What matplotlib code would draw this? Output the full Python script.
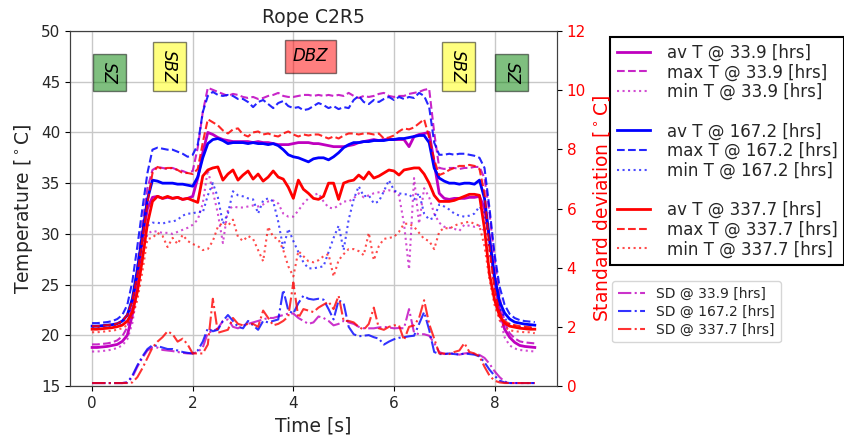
import numpy as np
import matplotlib
matplotlib.use('Agg')
import matplotlib.pyplot as plt
from matplotlib.lines import Line2D

# sample times [s], 0.1 s steps
time_s = np.linspace(0, 8.8, 89)

hours = ['33.9', '167.2', '337.7']

# temperature series [deg C] at 33.9 hrs
av_339 = [18.8, 18.8, 18.85, 18.9, 19.0, 19.1, 19.4, 20.0, 22.0, 25.5,
          29.5, 32.5, 33.6, 33.7, 33.5, 33.6, 33.5, 33.6, 33.4, 33.5,
          33.7, 35.5, 38.0, 40.0, 39.8, 39.5, 39.3, 39.2, 39.1, 39.1,
          39.1, 39.1, 39.0, 39.1, 39.0, 39.0, 38.9, 38.8, 38.8, 38.8,
          38.9, 39.0, 39.0, 39.0, 38.9, 38.9, 38.8, 38.7, 38.6, 38.6,
          38.6, 38.7, 38.8, 39.0, 39.1, 39.2, 39.3, 39.2, 39.3, 39.3,
          39.3, 39.3, 39.3, 38.6, 39.6, 39.8, 39.9, 40.0, 37.0, 34.0,
          33.5, 33.4, 33.5, 33.5, 33.5, 33.6, 33.6, 33.7, 32.5, 29.5,
          25.5, 22.5, 20.6, 19.8, 19.3, 19.0, 18.9, 18.85, 18.8]
max_339 = [19.1, 19.1, 19.15, 19.2, 19.3, 19.5, 19.9, 20.8, 23.0, 26.8,
           31.0, 34.5, 36.3, 36.6, 36.5, 36.4, 36.5, 36.3, 36.2, 36.0,
           36.2, 38.5, 42.0, 44.4, 44.2, 44.0, 43.8, 43.6, 43.8, 43.7,
           43.5, 43.4, 43.5, 43.3, 43.4, 43.6, 43.7, 43.9, 43.6, 43.5,
           43.5, 43.6, 43.7, 43.7, 43.6, 43.7, 43.6, 43.7, 43.6, 43.7,
           43.6, 43.9, 43.6, 43.4, 43.6, 43.5, 43.6, 43.8, 43.9, 43.6,
           43.5, 43.6, 43.6, 43.8, 43.9, 44.0, 44.2, 44.3, 40.0, 36.5,
           36.4, 36.5, 36.5, 36.4, 36.5, 36.5, 36.6, 36.6, 35.5, 32.0,
           27.5, 23.8, 21.3, 20.2, 19.7, 19.4, 19.3, 19.25, 19.2]
min_339 = [18.4, 18.4, 18.45, 18.5, 18.6, 18.75, 19.0, 19.6, 21.2, 24.3,
           28.0, 30.0, 30.3, 30.2, 30.1, 30.1, 30.0, 30.2, 30.4, 30.6,
           30.9, 31.4, 33.0, 36.3, 34.2, 32.0, 29.1, 32.4, 32.7, 32.6,
           32.6, 32.7, 32.8, 32.7, 32.9, 33.2, 33.3, 33.0, 32.0, 31.7,
           31.7, 32.3, 33.0, 33.5, 33.8, 34.0, 33.2, 32.6, 32.5, 32.8,
           33.2, 33.2, 33.5, 34.0, 33.6, 33.8, 34.0, 34.1, 34.2, 34.3,
           34.2, 33.8, 31.0, 26.5, 35.5, 31.0, 34.5, 33.6, 32.0, 31.1,
           30.7, 30.6, 30.5, 30.3, 30.9, 30.8, 30.7, 30.8, 30.3, 28.5,
           25.0, 21.8, 19.8, 19.0, 18.7, 18.55, 18.5, 18.45, 18.4]

# temperature series [deg C] at 167.2 hrs
av_1672 = [20.9, 20.9, 20.95, 21.0, 21.05, 21.15, 21.4, 22.0, 23.6, 26.5,
           30.0, 33.4, 35.3, 35.2, 35.0, 35.0, 35.0, 34.9, 34.9, 34.8,
           34.7, 35.6, 37.5, 38.9, 39.3, 39.4, 39.2, 38.9, 39.0, 39.0,
           39.0, 38.9, 39.0, 38.9, 38.9, 38.8, 38.9, 38.7, 38.3, 37.8,
           37.6, 37.5, 37.3, 37.1, 37.4, 37.5, 37.5, 37.3, 37.6, 38.0,
           38.5, 38.8, 39.0, 39.0, 39.1, 39.1, 39.2, 39.2, 39.2, 39.3,
           39.3, 39.4, 39.4, 39.5, 39.6, 39.7, 39.7, 39.0, 36.5, 35.5,
           35.2, 35.0, 35.0, 34.9, 35.0, 35.0, 34.9, 35.3, 33.5, 29.5,
           25.8, 23.3, 22.2, 21.6, 21.3, 21.2, 21.1, 21.05, 21.0]
max_1672 = [21.2, 21.2, 21.25, 21.3, 21.4, 21.6, 22.0, 23.0, 25.3, 28.8,
            32.5, 36.0, 38.3, 38.5, 38.4, 38.3, 38.3, 38.1, 37.9, 37.6,
            37.8, 38.8, 42.0, 43.6, 44.0, 43.7, 43.6, 43.7, 43.6, 43.3,
            43.3, 43.0, 42.5, 43.0, 43.2, 42.8, 42.4, 42.9, 43.1, 42.6,
            42.4, 42.5, 42.2, 42.3, 42.6, 42.9, 42.7, 42.4, 42.6, 42.3,
            42.5, 42.4, 43.2, 43.6, 43.0, 42.8, 43.2, 43.0, 43.3, 43.5,
            43.2, 43.5, 43.3, 43.5, 43.4, 43.9, 43.6, 42.5, 39.0, 37.8,
            37.8, 37.9, 37.8, 37.9, 37.9, 37.8, 37.7, 37.5, 36.5, 32.5,
            28.0, 24.8, 23.0, 22.1, 21.7, 21.5, 21.4, 21.35, 21.3]
min_1672 = [20.7, 20.7, 20.75, 20.8, 20.85, 21.0, 21.25, 21.8, 23.2, 25.8,
            29.0, 30.8, 31.1, 31.1, 31.0, 31.2, 31.2, 31.4, 31.8, 32.0,
            32.0, 32.2, 32.1, 33.8, 35.0, 33.6, 31.0, 32.0, 34.2, 33.8,
            33.7, 33.5, 33.4, 32.0, 33.3, 33.5, 33.2, 31.2, 28.6, 30.5,
            29.3, 28.2, 27.2, 26.6, 26.6, 26.7, 26.8, 28.2, 29.6, 30.8,
            28.4, 31.4, 33.4, 34.7, 33.7, 33.8, 33.0, 33.2, 34.2, 35.3,
            34.3, 34.0, 33.9, 33.9, 33.4, 34.0, 32.0, 31.4, 31.6, 32.9,
            32.7, 32.4, 32.0, 31.8, 31.7, 31.8, 32.0, 32.7, 32.0, 28.5,
            25.0, 22.8, 21.7, 21.1, 20.9, 20.8, 20.75, 20.7, 20.7]

# temperature series [deg C] at 337.7 hrs
av_3377 = [20.6, 20.6, 20.65, 20.7, 20.75, 20.85, 21.0, 21.4, 22.3, 24.3,
           27.5, 31.0, 33.2, 33.7, 33.5, 33.7, 33.5, 33.6, 33.4, 33.5,
           33.3, 33.1, 35.7, 36.3, 36.5, 36.6, 35.3, 35.9, 36.3, 35.3,
           35.8, 36.2, 35.4, 35.9, 35.2, 35.6, 36.2, 35.6, 35.4, 34.6,
           33.5, 35.3, 34.4, 34.0, 33.5, 33.4, 33.7, 35.0, 35.0, 33.4,
           35.0, 35.2, 35.3, 35.8, 35.4, 36.1, 35.5, 35.7, 36.0, 36.3,
           36.2, 35.8, 36.3, 36.4, 36.5, 36.5, 35.9, 35.0, 33.8, 33.2,
           33.2, 33.2, 33.3, 33.5, 33.7, 33.9, 33.9, 33.8, 30.5, 26.0,
           23.5, 21.9, 21.2, 20.9, 20.8, 20.7, 20.65, 20.6, 20.6]
max_3377 = [20.9, 20.9, 20.95, 21.0, 21.05, 21.15, 21.4, 22.0, 23.4, 26.0,
            29.5, 33.0, 36.0, 36.6, 36.4, 36.5, 36.5, 36.3, 36.0, 36.0,
            35.9, 36.4, 39.0, 41.3, 41.0, 40.7, 40.2, 39.9, 40.3, 40.4,
            39.8, 39.6, 40.0, 40.1, 39.8, 39.9, 39.7, 39.6, 39.9, 40.1,
            39.8, 39.6, 39.8, 39.7, 39.8, 39.8, 39.6, 39.4, 39.6, 39.4,
            39.7, 39.9, 39.9, 39.8, 39.9, 39.9, 39.8, 39.9, 39.4, 39.5,
            39.7, 40.1, 40.4, 40.3, 40.5, 40.9, 41.3, 39.5, 37.3, 35.8,
            36.0, 36.3, 36.5, 36.7, 36.7, 36.8, 36.7, 36.4, 34.0, 28.5,
            24.5, 22.2, 21.4, 21.1, 21.0, 20.9, 20.85, 20.8, 20.8]
min_3377 = [20.3, 20.3, 20.35, 20.4, 20.45, 20.55, 20.7, 21.0, 21.8, 23.5,
            26.3, 29.5, 29.6, 30.1, 29.8, 28.7, 29.6, 29.0, 29.9, 29.3,
            29.0, 28.8, 28.4, 28.5, 29.3, 30.7, 31.1, 30.8, 31.4, 29.7,
            29.3, 29.8, 29.5, 28.4, 27.3, 30.7, 29.7, 29.5, 28.4, 26.8,
            25.8, 28.3, 27.8, 27.3, 27.2, 27.4, 27.8, 28.0, 25.8, 27.4,
            28.0, 28.5, 28.5, 28.3, 27.9, 30.1, 27.4, 28.8, 29.5, 29.6,
            29.7, 30.2, 31.0, 31.0, 30.7, 30.1, 29.5, 29.3, 28.5, 30.2,
            30.6, 30.5, 30.8, 31.0, 31.1, 31.2, 31.0, 30.8, 28.8, 25.5,
            23.0, 21.5, 20.8, 20.5, 20.4, 20.35, 20.3, 20.3, 20.2]

# standard deviation [deg C]
sd_339 = [0.1, 0.1, 0.1, 0.1, 0.1, 0.1, 0.1, 0.12, 0.3, 0.65,
          0.95, 1.2, 1.3, 1.3, 1.22, 1.2, 1.18, 1.15, 1.12, 1.1,
          1.1, 1.15, 1.3, 1.8, 1.85, 1.95, 2.2, 2.25, 2.0, 1.95,
          2.05, 2.1, 2.15, 2.2, 2.25, 2.3, 2.3, 2.35, 2.4, 2.45,
          2.45, 2.3, 2.2, 2.1, 2.15, 2.35, 2.3, 2.2, 2.05, 2.1,
          2.2, 2.15, 2.1, 2.0, 1.95, 1.95, 1.95, 1.98, 2.0, 1.98,
          1.95, 1.96, 1.95, 2.6, 1.8, 1.75, 1.75, 1.7, 1.45, 1.15,
          1.08, 1.1, 1.1, 1.06, 1.1, 1.12, 1.08, 1.05, 0.95, 0.75,
          0.5, 0.3, 0.15, 0.1, 0.1, 0.1, 0.1, 0.1, 0.1]
sd_1672 = [0.1, 0.1, 0.1, 0.1, 0.1, 0.1, 0.1, 0.12, 0.35, 0.7,
           1.0, 1.25, 1.38, 1.35, 1.3, 1.25, 1.25, 1.2, 1.15, 1.12,
           1.1, 1.2, 1.5, 1.95, 1.85, 1.9, 2.2, 2.4, 2.2, 2.0,
           1.95, 2.2, 2.05, 1.9, 2.2, 2.15, 2.2, 2.25, 3.25, 2.55,
           2.45, 2.8, 3.05, 2.95, 2.92, 2.95, 2.92, 2.6, 2.25, 2.9,
           2.8, 2.0, 1.75, 1.68, 1.7, 1.72, 1.65, 1.6, 1.4, 1.5,
           1.58, 1.63, 1.65, 1.68, 1.7, 2.1, 2.5, 1.9, 1.15, 1.08,
           1.08, 1.1, 1.08, 1.06, 1.1, 1.08, 1.06, 1.0, 0.8, 0.55,
           0.35, 0.18, 0.12, 0.1, 0.1, 0.1, 0.1, 0.1, 0.1]
sd_3377 = [0.1, 0.1, 0.1, 0.1, 0.1, 0.1, 0.1, 0.1, 0.12, 0.3,
           0.6, 0.95, 1.3, 1.5, 1.65, 1.85, 1.75, 1.5, 1.6, 1.4,
           1.1, 1.1, 1.1, 1.4, 2.95, 1.8, 1.85, 1.9, 2.3, 2.1,
           2.05, 2.1, 2.1, 2.0, 2.55, 2.3, 2.05, 2.1, 2.2, 2.35,
           3.5, 2.3, 2.6, 2.55, 2.5, 2.65, 2.75, 2.85, 2.6, 3.05,
           2.2, 2.2, 2.15, 2.0, 1.9, 2.1, 2.65, 1.95, 1.9, 2.0,
           2.05, 2.05, 1.55, 2.0, 2.05, 2.3, 2.9, 2.1, 1.6, 1.1,
           1.1, 1.08, 1.15, 1.2, 1.45, 1.15, 1.1, 1.0, 0.65, 0.35,
           0.18, 0.12, 0.1, 0.1, 0.1, 0.1, 0.1, 0.1, 0.1]

# zone labels: text, time, temperature, colour, rotation
zone_text = ['SZ', 'SBZ', 'DBZ', 'SBZ', 'SZ']
zone_t = [0.34, 1.53, 4.34, 7.28, 8.34]
zone_T = [45.9, 46.5, 47.5, 46.5, 45.9]
zone_col = ['green', 'yellow', 'red', 'yellow', 'green']
zone_rot = [270, 270, 0, 270, 270]

colors = ['m', 'b', 'r']
av_T = [av_339, av_1672, av_3377]
max_T = [max_339, max_1672, max_3377]
min_T = [min_339, min_1672, min_3377]
sd_T = [sd_339, sd_1672, sd_3377]

fig = plt.figure(figsize=(8.45, 4.37), dpi=100)
ax = fig.add_axes([0.0828, 0.1167, 0.5763, 0.8123])
ax2 = ax.twinx()

handles = []
for k in range(3):
    c = colors[k]
    h1, = ax.plot(time_s, av_T[k], '-', color=c, lw=2.0,
                  label='av T @ %s [hrs]' % hours[k])
    h2, = ax.plot(time_s, max_T[k], '--', color=c, lw=1.5, alpha=0.85,
                  label='max T @ %s [hrs]' % hours[k])
    h3, = ax.plot(time_s, min_T[k], ':', color=c, lw=1.5, alpha=0.7,
                  label='min T @ %s [hrs]' % hours[k])
    handles += [h1, h2, h3]
    if k < 2:
        handles.append(Line2D([], [], color='none', label=' '))

sd_handles = []
for k in range(3):
    h, = ax2.plot(time_s, sd_T[k], '-.', color=colors[k], lw=1.5, alpha=0.8,
                  label='SD @ %s [hrs]' % hours[k])
    sd_handles.append(h)

for txt, tt, TT, col, rot in zip(zone_text, zone_t, zone_T, zone_col, zone_rot):
    ax.text(tt, TT, txt, rotation=rot, style='italic', fontsize=12,
            ha='center', va='center',
            bbox=dict(boxstyle='square,pad=0.45', facecolor=col, alpha=0.5))

ax.set_ylim(15, 50)
ax2.set_ylim(0, 12)
ax.set_xticks([0, 2, 4, 6, 8])
ax.grid(True, color='#c8c8c8', lw=1)
ax.set_axisbelow(True)
ax.tick_params(labelsize=11, labelcolor='#262626')
ax2.tick_params(labelsize=11, labelcolor='red')
ax.set_xlabel('Time [s]', fontsize=13.5, color='#262626')
ax.set_ylabel(r'Temperature [$^\circ$C]', fontsize=13.5, color='#262626')
ax2.set_ylabel(r'Standard deviation [$^\circ$C]', fontsize=13.5, color='red')
ax.set_title('Rope C2R5', fontsize=13.5, color='#262626')
for sp in list(ax.spines.values()) + list(ax2.spines.values()):
    sp.set_color('#404040')

leg1 = ax.legend(handles=handles, loc='upper left',
                 bbox_to_anchor=(610 / 845, 1 - 37 / 437),
                 bbox_transform=fig.transFigure, borderaxespad=0,
                 fontsize=12, labelspacing=0.1, handletextpad=1.0,
                 fancybox=False, edgecolor='black', framealpha=1)
leg1.get_frame().set_linewidth(1.5)
for t in leg1.get_texts():
    t.set_color('#262626')
leg2 = ax2.legend(handles=sd_handles, loc='upper left',
                  bbox_to_anchor=(612 / 845, 1 - 281 / 437),
                  bbox_transform=fig.transFigure, borderaxespad=0,
                  fontsize=10, labelspacing=0.3)
for t in leg2.get_texts():
    t.set_color('#262626')

fig.savefig('out.png', dpi=100)
